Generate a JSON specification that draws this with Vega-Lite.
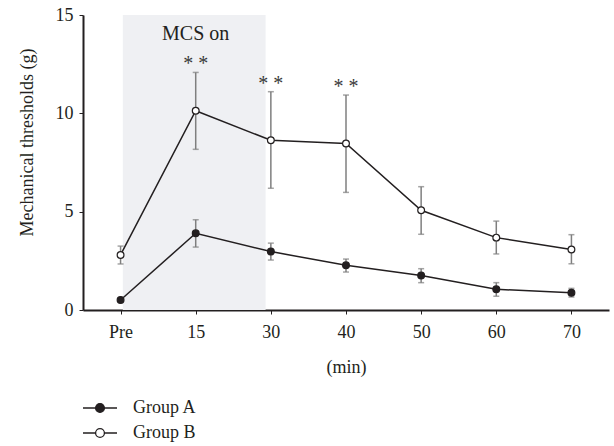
{
  "$schema": "https://vega.github.io/schema/vega-lite/v6.json",
  "width": 526,
  "height": 295,
  "autosize": {"type": "none"},
  "padding": {"left": 83, "top": 15, "right": 5, "bottom": 136},
  "config": {
    "view": {"stroke": null},
    "font": "Liberation Serif",
    "axis": {
      "domainColor": "#231f20",
      "domainWidth": 2,
      "tickColor": "#231f20",
      "tickWidth": 1,
      "tickSize": 4,
      "labelColor": "#231f20",
      "labelFont": "Liberation Serif",
      "labelFontSize": 18,
      "titleFont": "Liberation Serif",
      "titleFontSize": 18,
      "titleFontWeight": "normal",
      "titleColor": "#231f20",
      "grid": false
    },
    "legend": {
      "labelFont": "Liberation Serif",
      "labelFontSize": 18,
      "labelColor": "#231f20"
    }
  },
  "datasets": {
    "obs": [
      {"group": "Group A", "pos": 0, "mean": 0.51, "lo": 0.46, "hi": 0.56, "sig": ""},
      {"group": "Group A", "pos": 1, "mean": 3.9, "lo": 3.2, "hi": 4.59, "sig": ""},
      {"group": "Group A", "pos": 2, "mean": 2.97, "lo": 2.54, "hi": 3.4, "sig": ""},
      {"group": "Group A", "pos": 3, "mean": 2.27, "lo": 1.93, "hi": 2.59, "sig": ""},
      {"group": "Group A", "pos": 4, "mean": 1.75, "lo": 1.39, "hi": 2.1, "sig": ""},
      {"group": "Group A", "pos": 5, "mean": 1.05, "lo": 0.7, "hi": 1.39, "sig": ""},
      {"group": "Group A", "pos": 6, "mean": 0.88, "lo": 0.66, "hi": 1.1, "sig": ""},
      {"group": "Group B", "pos": 0, "mean": 2.8, "lo": 2.34, "hi": 3.25, "sig": ""},
      {"group": "Group B", "pos": 1, "mean": 10.13, "lo": 8.17, "hi": 12.08, "sig": "* *"},
      {"group": "Group B", "pos": 2, "mean": 8.63, "lo": 6.19, "hi": 11.1, "sig": "* *"},
      {"group": "Group B", "pos": 3, "mean": 8.47, "lo": 5.98, "hi": 10.93, "sig": "* *"},
      {"group": "Group B", "pos": 4, "mean": 5.07, "lo": 3.85, "hi": 6.27, "sig": ""},
      {"group": "Group B", "pos": 5, "mean": 3.68, "lo": 2.85, "hi": 4.52, "sig": ""},
      {"group": "Group B", "pos": 6, "mean": 3.08, "lo": 2.35, "hi": 3.83, "sig": ""}
    ],
    "phase": [
      {"start": 0.03, "end": 1.93, "bottom": 0, "top": 15, "mid": 1, "label": "MCS on"}
    ]
  },
  "layer": [
    {
      "data": {"name": "phase"},
      "mark": {"type": "rect", "color": "#eff0f3"},
      "encoding": {
        "x": {
          "field": "start",
          "type": "quantitative",
          "scale": {"domain": [-0.5, 6.5], "nice": false, "zero": false},
          "axis": {
            "title": "(min)",
            "values": [0, 1, 2, 3, 4, 5, 6],
            "labelExpr": "['Pre','15','30','40','50','60','70'][datum.value]",
            "labelPadding": 9,
            "titlePadding": 17
          }
        },
        "x2": {"field": "end"},
        "y": {
          "field": "bottom",
          "type": "quantitative",
          "scale": {"domain": [0, 15], "nice": false},
          "axis": {
            "title": "Mechanical thresholds (g)",
            "values": [0, 5, 10, 15],
            "labelPadding": 6,
            "titleAngle": 270,
            "titleX": -47,
            "titleY": 127,
            "titleAlign": "center",
            "titleBaseline": "bottom"
          }
        },
        "y2": {"field": "top"}
      }
    },
    {
      "data": {"name": "phase"},
      "mark": {"type": "text", "fontSize": 20, "color": "#231f20", "baseline": "middle", "dy": 19},
      "encoding": {
        "x": {"field": "mid", "type": "quantitative"},
        "y": {"field": "top", "type": "quantitative"},
        "text": {"field": "label"}
      }
    },
    {
      "data": {"name": "obs"},
      "mark": {"type": "rule", "color": "#7f7f7f", "strokeWidth": 1.5},
      "encoding": {
        "x": {"field": "pos", "type": "quantitative"},
        "y": {"field": "lo", "type": "quantitative"},
        "y2": {"field": "hi"}
      }
    },
    {
      "data": {"name": "obs"},
      "mark": {"type": "tick", "orient": "horizontal", "color": "#7f7f7f", "size": 6, "thickness": 1.5},
      "encoding": {
        "x": {"field": "pos", "type": "quantitative"},
        "y": {"field": "lo", "type": "quantitative"}
      }
    },
    {
      "data": {"name": "obs"},
      "mark": {"type": "tick", "orient": "horizontal", "color": "#7f7f7f", "size": 6, "thickness": 1.5},
      "encoding": {
        "x": {"field": "pos", "type": "quantitative"},
        "y": {"field": "hi", "type": "quantitative"}
      }
    },
    {
      "data": {"name": "obs"},
      "mark": {"type": "line", "color": "#231f20", "strokeWidth": 1.5},
      "encoding": {
        "x": {"field": "pos", "type": "quantitative"},
        "y": {"field": "mean", "type": "quantitative"},
        "detail": {"field": "group"}
      }
    },
    {
      "data": {"name": "obs"},
      "mark": {"type": "circle", "size": 46, "stroke": "#231f20", "strokeWidth": 1.2, "opacity": 1},
      "encoding": {
        "x": {"field": "pos", "type": "quantitative"},
        "y": {"field": "mean", "type": "quantitative"},
        "fill": {
          "field": "group",
          "type": "nominal",
          "scale": {"domain": ["Group A", "Group B"], "range": ["#231f20", "#ffffff"]},
          "legend": {
            "title": null,
            "orient": "none",
            "legendX": 8,
            "legendY": 384,
            "padding": 0,
            "symbolType": "M-4.25,0H-1.1M1.1,0H4.25M1.1,0A1.1,1.1 0 1 1 -1.1,0A1.1,1.1 0 1 1 1.1,0Z",
            "symbolSize": 64,
            "symbolStrokeColor": "#231f20",
            "symbolStrokeWidth": 1.3,
            "labelOffset": 24,
            "rowPadding": 7
          }
        }
      }
    },
    {
      "data": {"name": "obs"},
      "mark": {"type": "text", "fontSize": 20, "color": "#3a3a3a", "baseline": "alphabetic", "dy": -2},
      "encoding": {
        "x": {"field": "pos", "type": "quantitative"},
        "y": {"field": "hi", "type": "quantitative"},
        "text": {"field": "sig"}
      }
    }
  ]
}
